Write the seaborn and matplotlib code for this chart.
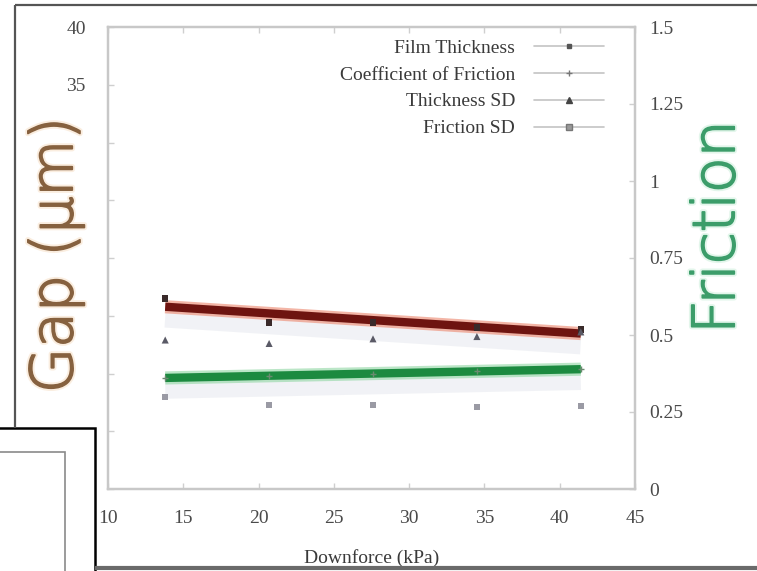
import matplotlib
matplotlib.use("Agg")
import matplotlib.pyplot as plt
import matplotlib.patheffects as pe
from matplotlib import font_manager
from matplotlib.lines import Line2D
from matplotlib.patches import Rectangle
import pandas as pd
import seaborn as sns

# Measurements per downforce step
downforce = [13.8, 20.7, 27.6, 34.5, 41.4]              # kPa
film_thickness = [16.5, 14.4, 14.4, 14.0, 13.8]         # gap, um
thickness_sd = [12.9, 12.6, 13.0, 13.2, 13.6]           # gap, um
friction = [0.362, 0.366, 0.374, 0.383, 0.389]          # coefficient
friction_sd = [0.300, 0.273, 0.273, 0.266, 0.269]       # coefficient

x_ticks = [10, 15, 20, 25, 30, 35, 40, 45]
gap_ticks = [0, 5, 10, 15, 20, 25, 30, 35, 40]
gap_tick_labels = ["", "", "", "", "", "", "", "35", "40"]
friction_ticks = [0, 0.25, 0.5, 0.75, 1, 1.25, 1.5]
friction_tick_labels = ["0", "0.25", "0.5", "0.75", "1", "1.25", "1.5"]

series_names = ["Film Thickness", "Coefficient of Friction", "Thickness SD", "Friction SD"]

df = pd.DataFrame({
    "downforce": downforce,
    "film": film_thickness,
    "film_sd": thickness_sd,
    "friction": friction,
    "friction_sd": friction_sd,
})

sns.set_style("white")
plt.rcParams["font.family"] = ["Liberation Serif", "DejaVu Serif"]


def light_sans():
    """Pick a thin sans-serif face for the big axis titles, if one is installed."""
    wanted = ["DejaVu Sans", "Lato", "Open Sans", "Roboto", "Noto Sans", "Inter"]
    for fam in wanted:
        for f in font_manager.fontManager.ttflist:
            w = f.weight if isinstance(f.weight, int) else 400
            if f.name == fam and w <= 300 and f.style == "normal":
                return dict(family=fam, weight=w)
    return dict(family="DejaVu Sans", weight="normal")


title_font = light_sans()

W, H = 757, 571
fig = plt.figure(figsize=(W / 100, H / 100), dpi=100)
fig.patch.set_edgecolor("none")
fig.patch.set_linewidth(0)
ax = fig.add_axes([108 / W, 1 - 489 / H, (635 - 108) / W, (489 - 27) / H])
ax2 = ax.twinx()

red_fx = [
    pe.SimpleLineShadow(offset=(0, -7), shadow_color="#98a2bb", alpha=0.13, linewidth=16),
    pe.Stroke(linewidth=9.5, foreground="#ee9680", alpha=0.7),
    pe.Normal(),
]
green_fx = [
    pe.SimpleLineShadow(offset=(0, -7), shadow_color="#98a2bb", alpha=0.13, linewidth=16),
    pe.Stroke(linewidth=9.5, foreground="#8fd6a2", alpha=0.6),
    pe.Normal(),
]

# Trend lines
sns.regplot(data=df, x="downforce", y="film", ax=ax, ci=None, scatter=False, truncate=True,
            line_kws=dict(color="#6e1410", lw=6, solid_capstyle="butt", path_effects=red_fx))
sns.regplot(data=df, x="downforce", y="friction", ax=ax2, ci=None, scatter=False, truncate=True,
            line_kws=dict(color="#1c8a40", lw=6, solid_capstyle="butt", path_effects=green_fx))

# Measured points
sns.scatterplot(data=df, x="downforce", y="film", ax=ax, marker="s", s=22,
                color="#3a2a2a", edgecolor="none", zorder=4)
sns.scatterplot(data=df, x="downforce", y="film_sd", ax=ax, marker="^", s=26,
                color="#5a5a66", edgecolor="none", zorder=4)
sns.scatterplot(data=df, x="downforce", y="friction", ax=ax2, marker="+", s=18,
                color="#6a8a70", linewidth=1, zorder=4)
sns.scatterplot(data=df, x="downforce", y="friction_sd", ax=ax2, marker="s", s=18,
                color="#9a9aa4", edgecolor="none", zorder=4)

# Axes ranges and ticks
ax.set_xlim(10, 45)
ax.set_ylim(0, 40)
ax2.set_ylim(0, 1.5)
ax.set_xticks(x_ticks)
ax.set_xticklabels([str(t) for t in x_ticks])
ax.set_yticks(gap_ticks)
ax.set_yticklabels(gap_tick_labels)
ax2.set_yticks(friction_ticks)
ax2.set_yticklabels(friction_tick_labels)

tick_color = "#4a4a4a"
ax.tick_params(axis="both", direction="in", length=4, width=1, color="#cfcfcf",
               labelsize=14, labelcolor=tick_color, top=True, bottom=True, left=True)
ax.tick_params(axis="x", pad=15)
ax.tick_params(axis="y", pad=16)
ax2.tick_params(axis="y", direction="in", length=4, width=1, color="#cfcfcf",
                labelsize=14, labelcolor=tick_color, right=True, pad=10)

for a in (ax, ax2):
    for sp in a.spines.values():
        sp.set_color("#c8c8c8")
        sp.set_linewidth(1.6)

ax.set_xlabel("Downforce (kPa)", fontsize=14, color="#3a3a3a", labelpad=16)
ax.set_ylabel("")
ax2.set_ylabel("")

# Large axis titles
fig.text(56 / W, 1 - 255 / H, "Gap (\u03bcm)", rotation=90, ha="center", va="center",
         fontsize=42, color="#86613f",
         path_effects=[pe.Stroke(linewidth=4, foreground="#f6dcc0", alpha=0.5),
                       pe.Stroke(linewidth=1.3, foreground="#86613f"), pe.Normal()],
         **title_font)
fig.text(718 / W, 1 - 227 / H, "Friction", rotation=90, ha="center", va="center",
         fontsize=42, color="#3c9d6a",
         path_effects=[pe.Stroke(linewidth=4, foreground="#c8eed8", alpha=0.5),
                       pe.Stroke(linewidth=1.3, foreground="#3c9d6a"), pe.Normal()],
         **title_font)

# Legend
handle_line = dict(color="#c4c4c4", lw=1.2)
handles = [
    Line2D([], [], marker="s", ms=3.5, mfc="#555", mec="#555", **handle_line),
    Line2D([], [], marker="+", ms=4, mfc="#777", mec="#777", **handle_line),
    Line2D([], [], marker="^", ms=4, mfc="#444", mec="#444", **handle_line),
    Line2D([], [], marker="s", ms=4, mfc="#999", mec="#777", **handle_line),
]
ax2.legend(handles, series_names, loc="upper right", bbox_to_anchor=(0.975, 1.012),
           frameon=False, markerfirst=False, fontsize=14, handlelength=3.6,
           handletextpad=1.0, labelspacing=0.48, labelcolor="#3a3a3a")


# Surrounding window frame and overlay box
def fx(x):
    return x / W


def fy(y):
    return 1 - y / H


# keep the right-hand margin clean
fig.add_artist(Rectangle((fx(748), fy(566)), fx(12), fy(7) - fy(566),
                         facecolor="white", edgecolor="none", zorder=9))
fig.add_artist(Line2D([fx(15), fx(757)], [fy(4.5), fy(4.5)], color="#555555", lw=1.6,
                      solid_capstyle="butt", zorder=12))
fig.add_artist(Line2D([fx(15), fx(15)], [fy(4.5), fy(428)], color="#555555", lw=1.6,
                      solid_capstyle="butt", zorder=12))
fig.add_artist(Line2D([fx(95), fx(757)], [fy(568), fy(568)], color="#6a6a6a", lw=3,
                      solid_capstyle="butt", zorder=12))
fig.add_artist(Rectangle((fx(-5), fy(580)), fx(100), fy(428) - fy(580),
                         facecolor="white", edgecolor="black", lw=1.8, zorder=10))
fig.add_artist(Rectangle((fx(-5), fy(580)), fx(70), fy(452) - fy(580),
                         facecolor="white", edgecolor="#8a8a8a", lw=1.2, zorder=11))

fig.savefig("out.png", dpi=100, facecolor="white", edgecolor="none")
